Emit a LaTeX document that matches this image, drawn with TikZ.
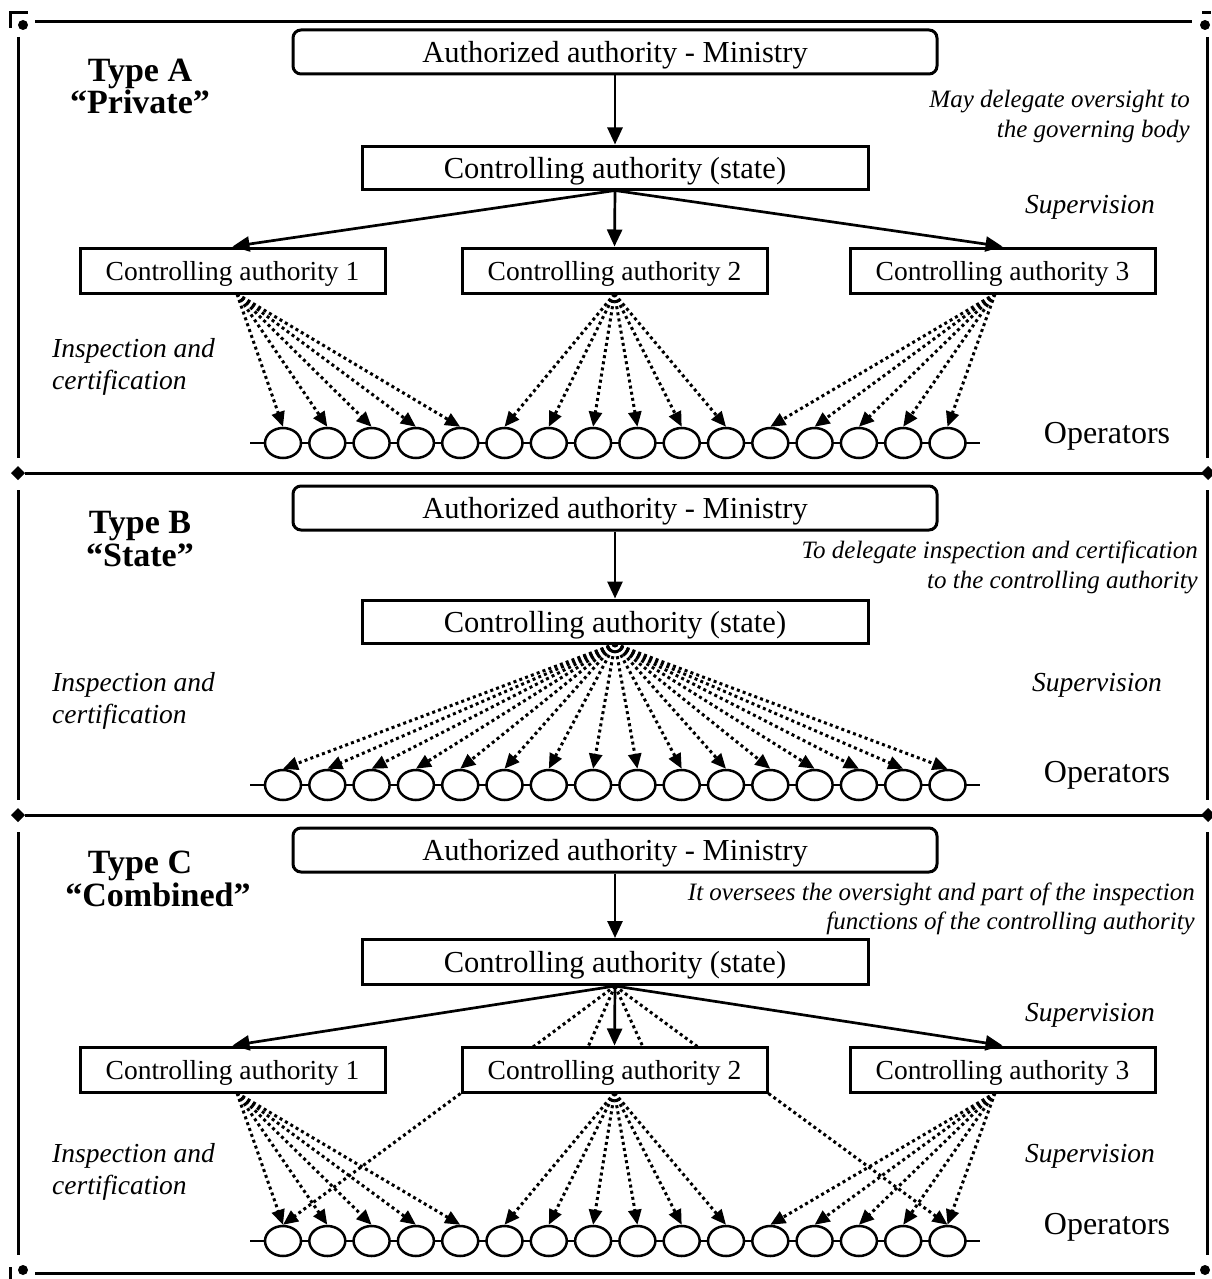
\documentclass[tikz,border=0pt]{standalone}
\usepackage{fontspec}
\setmainfont{Liberation Serif}
\usetikzlibrary{arrows.meta,shapes.geometric}
\begin{document}
\begin{tikzpicture}[x=1pt,y=-1pt,
  box/.style={draw,line width=3pt,inner sep=0pt},
  mbox/.style={box,rounded corners=8pt,minimum width=644pt,minimum height=44pt,font=\fontsize{30.5}{30.5}\selectfont,text height=21pt,text depth=0pt},
  sbox/.style={box,minimum width=506pt,minimum height=43pt,font=\fontsize{30.5}{30.5}\selectfont,text height=21pt,text depth=0pt},
  cbox/.style={box,minimum width=305pt,minimum height=45pt,font=\fontsize{27.5}{27.5}\selectfont,text height=19pt,text depth=0pt},
  op/.style={ellipse,draw,fill=white,line width=2.5pt,minimum width=36pt,minimum height=30pt,inner sep=0pt},
  solidarr/.style={line width=2.7pt,-{Triangle[length=17pt,width=15pt]}},
  dotarr/.style={line width=3pt,dash pattern=on 3pt off 3.2pt,-{Triangle[length=15pt,width=13pt]}},
  dotline/.style={line width=3pt,dash pattern=on 3pt off 3.2pt},
  typet/.style={font=\fontsize{34}{34}\selectfont\bfseries,inner sep=0pt,text height=23pt,text depth=0pt},
  note/.style={font=\fontsize{25}{25}\selectfont\itshape,anchor=east,inner sep=0pt,text height=17pt,text depth=0pt},
  lab/.style={font=\fontsize{27.5}{27.5}\selectfont\itshape,inner sep=0pt,text height=19pt,text depth=0pt},
  labl/.style={lab,anchor=west},
  opl/.style={font=\fontsize{32}{32}\selectfont,inner sep=0pt,text height=22pt,text depth=0pt},
  frame/.style={line width=3pt},
  rowline/.style={line width=2.5pt}
]
\useasboundingbox (0,0) rectangle (1211,1279);

% ---------- frame ----------
\draw[frame] (10,28) -- (10,13) -- (28,13);
\fill (23,25) circle (5);
\draw[frame] (35,22) -- (1192,22);
\draw[frame] (1202,13) -- (1211,13);
\fill (1205,25) circle (5);
\draw[frame] (18,37) -- (18,458);
\draw[frame] (18,490) -- (18,800);
\draw[frame] (18,832) -- (18,1255);
\draw[frame] (1207,37) -- (1207,458);
\draw[frame] (1207,490) -- (1207,800);
\draw[frame] (1207,832) -- (1207,1255);
\foreach \yy in {473,815}{
  \fill (11,\yy) -- (18,\yy-7) -- (25,\yy) -- (18,\yy+7) -- cycle;
  \draw[frame] (25,\yy) -- (1203,\yy);
  \fill (1201,\yy) -- (1208,\yy-7) -- (1215,\yy) -- (1208,\yy+7) -- cycle;
}
\draw[frame] (10,1267) -- (10,1279);
\fill (23,1270) circle (5);
\draw[frame] (35,1273) -- (1195,1273);
\fill (1205,1270) circle (5);

% ---------- operator rows ----------
\foreach \r/\yy in {A/443,B/785,C/1241}{
  \coordinate (\r L) at (250,\yy);
  \coordinate (\r R) at (980,\yy);
  \draw[rowline] (\r L) -- (\r R);
  \foreach \i in {1,...,16}
    \node[op] (\r\i) at ({283+44.3*(\i-1)},\yy) {};
}

% ---------- Panel A ----------
\node[typet] (tA1) at (140,70) {Type A};
\node[typet] (tA2) at (140,102) {“Private”};
\node[mbox] (am) at (615,52) {Authorized authority - Ministry};
\node[sbox] (as) at (615,167.5) {Controlling authority (state)};
\node[cbox] (a1) at (232.5,270.5) {Controlling authority 1};
\node[cbox] (a2) at (614.5,270.5) {Controlling authority 2};
\node[cbox] (a3) at (1002.5,270.5) {Controlling authority 3};
\node[note] (nA1) at (1190,99) {May delegate oversight to};
\node[note] (nA2) at (1190,129) {the governing body};
\node[lab] (sA) at (1090,204) {Supervision};
\node[labl] (iA1) at (52,348) {Inspection and};
\node[labl] (iA2) at (52,380) {certification};
\node[opl] (oA) at (1107,432) {Operators};
\draw[solidarr] (am) -- (as);
\draw[solidarr] (as.south) -- (a1.north);
\draw[solidarr] (as.south) -- (a2.north);
\draw[solidarr] (as.south) -- (a3.north);
\coordinate (a1f) at (237,294);
\coordinate (a2f) at (614.5,294);
\coordinate (a3f) at (995,294);
\foreach \i in {1,...,5} \draw[dotarr] (a1f) -- (A\i.north);
\foreach \i in {6,...,11} \draw[dotarr] (a2f) -- (A\i.north);
\foreach \i in {12,...,16} \draw[dotarr] (a3f) -- (A\i.north);

% ---------- Panel B ----------
\node[typet] (tB1) at (140,522) {Type B};
\node[typet] (tB2) at (140,555) {“State”};
\node[mbox] (bm) at (615,508) {Authorized authority - Ministry};
\node[sbox] (bs) at (615,621.5) {Controlling authority (state)};
\node[note] (nB1) at (1198,550) {To delegate inspection and certification};
\node[note] (nB2) at (1198,580) {to the controlling authority};
\node[lab] (sB) at (1097,682) {Supervision};
\node[labl] (iB1) at (52,682) {Inspection and};
\node[labl] (iB2) at (52,714) {certification};
\node[opl] (oB) at (1107,771) {Operators};
\draw[solidarr] (bm) -- (bs);
\coordinate (bf) at (615,644);
\foreach \i in {1,...,16} \draw[dotarr] (bf) -- (B\i.north);

% ---------- Panel C ----------
\node[typet] (tC1) at (140,862) {Type C};
\node[typet] (tC2) at (158,895) {“Combined”};
\node[mbox] (cm) at (615,850) {Authorized authority - Ministry};
\node[sbox,minimum height=45pt] (cs) at (615,962) {Controlling authority (state)};
\node[cbox] (c1) at (232.5,1069.5) {Controlling authority 1};
\node[cbox] (c2) at (614.5,1069.5) {Controlling authority 2};
\node[cbox] (c3) at (1002.5,1069.5) {Controlling authority 3};
\node[note] (nC1) at (1195,892) {It oversees the oversight and part of the inspection};
\node[note] (nC2) at (1195,921) {functions of the controlling authority};
\node[lab] (sC1) at (1090,1012) {Supervision};
\node[lab] (sC2) at (1090,1153) {Supervision};
\node[labl] (iC1) at (52,1153) {Inspection and};
\node[labl] (iC2) at (52,1185) {certification};
\node[opl] (oC) at (1107,1223) {Operators};
\draw[solidarr] (cm) -- (cs);
\draw[solidarr] (cs.south) -- (c1.north);
\draw[solidarr] (cs.south) -- (c2.north);
\draw[solidarr] (cs.south) -- (c3.north);
\coordinate (c2t1) at (533,1047);
\coordinate (c2t2) at (588,1047);
\coordinate (c2t3) at (643,1047);
\coordinate (c2t4) at (698,1047);
\foreach \k in {1,...,4} \draw[dotline] (cs.south) -- (c2t\k);
\coordinate (c1f) at (237,1093);
\coordinate (c2f) at (614.5,1093);
\coordinate (c3f) at (995,1093);
\foreach \i in {1,...,5} \draw[dotarr] (c1f) -- (C\i.north);
\foreach \i in {6,...,11} \draw[dotarr] (c2f) -- (C\i.north);
\foreach \i in {12,...,16} \draw[dotarr] (c3f) -- (C\i.north);
\draw[dotarr] (c2.south west) -- (C1.north);
\draw[dotarr] (c2.south east) -- (C16.north);
\end{tikzpicture}
\end{document}
